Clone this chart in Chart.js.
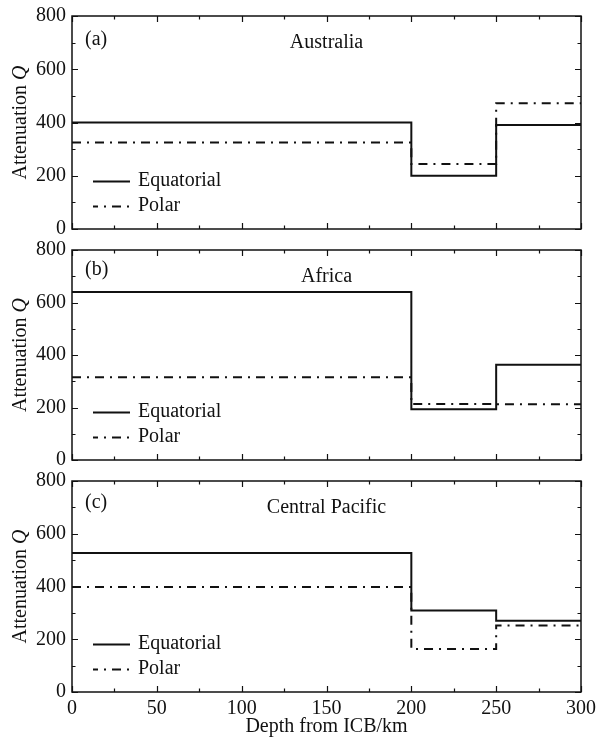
<!DOCTYPE html>
<html>
<head>
<meta charset="utf-8">
<script src="https://cdn.jsdelivr.net/npm/chart.js@4.4.1/dist/chart.umd.min.js"></script>
<style>
  html, body { margin: 0; padding: 0; background: #ffffff; }
  #wrap { position: relative; width: 597px; height: 739px; overflow: hidden; background: #ffffff; }
  canvas { position: absolute; left: 0; }
</style>
</head>
<body>
<div id="wrap">
  <canvas id="panelA" width="597" height="240" style="top:0px"></canvas>
  <canvas id="panelB" width="597" height="230" style="top:240px"></canvas>
  <canvas id="panelC" width="597" height="269" style="top:470px"></canvas>
</div>
<script>
// Layer boundaries (depth below the inner-core boundary, km)
const depthBounds = [0, 200, 250, 300];

// Attenuation Q in each depth layer: 0-200, 200-250, 250-300 km
const australiaEquatorial = [400, 200, 391];
const australiaPolar      = [325, 244, 472];
const africaEquatorial    = [640, 193, 363];
const africaPolar         = [315, 213, 212];
const pacificEquatorial   = [527, 309, 270];
const pacificPolar        = [398, 163, 252];

const regionNames = ['Australia', 'Africa', 'Central Pacific'];
const panelTags   = ['(a)', '(b)', '(c)'];
const seriesNames = ['Equatorial', 'Polar'];

// Axis ticks
const xTickValues  = [0, 50, 100, 150, 200, 250, 300];
const xMinorValues = [25, 75, 125, 175, 225, 275];
const yTickValues  = [0, 200, 400, 600, 800];
const yMinorValues = [100, 300, 500, 700];

const INK = '#111111';
const SERIF = '"Liberation Serif", "Times New Roman", serif';
const POLAR_DASH = [9, 6, 2, 6];

// Turn per-layer values into step-line points (value holds until the next boundary)
function layerPoints(values) {
  return depthBounds.map((d, i) => ({ x: d, y: values[Math.min(i, values.length - 1)] }));
}

// Frame, inward ticks, axis title, panel tag, region name and legend
const panelDecor = {
  id: 'panelDecor',
  afterDatasetsDraw(chart, args, opts) {
    const { ctx, chartArea } = chart;
    const { left, right, top, bottom } = chartArea;
    const xs = chart.scales.x, ys = chart.scales.y;
    ctx.save();

    // frame
    ctx.strokeStyle = INK;
    ctx.lineWidth = 1.5;
    ctx.setLineDash([]);
    ctx.strokeRect(left, top, right - left, bottom - top);

    // inward ticks on all four sides
    ctx.lineWidth = 1.2;
    ctx.beginPath();
    const xTick = (v, len) => {
      const p = Math.round(xs.getPixelForValue(v)) + 0.5;
      ctx.moveTo(p, bottom); ctx.lineTo(p, bottom - len);
      ctx.moveTo(p, top);    ctx.lineTo(p, top + len);
    };
    const yTick = (v, len) => {
      const p = Math.round(ys.getPixelForValue(v)) + 0.5;
      ctx.moveTo(left, p);  ctx.lineTo(left + len, p);
      ctx.moveTo(right, p); ctx.lineTo(right - len, p);
    };
    xTickValues.forEach(v => xTick(v, 6));
    xMinorValues.forEach(v => xTick(v, 3.5));
    yTickValues.forEach(v => yTick(v, 6));
    yMinorValues.forEach(v => yTick(v, 3.5));
    ctx.stroke();

    ctx.fillStyle = INK;

    // y axis title: "Attenuation Q" with italic Q
    ctx.save();
    ctx.translate(21, (top + bottom) / 2);
    ctx.rotate(-Math.PI / 2);
    const normalFont = '20px ' + SERIF;
    const italicFont = 'italic 20px ' + SERIF;
    ctx.font = normalFont;
    const w1 = ctx.measureText('Attenuation ').width;
    ctx.font = italicFont;
    const w2 = ctx.measureText('Q').width;
    const start = -(w1 + w2) / 2;
    ctx.textBaseline = 'middle';
    ctx.textAlign = 'left';
    ctx.font = normalFont;
    ctx.fillText('Attenuation ', start, 0);
    ctx.font = italicFont;
    ctx.fillText('Q', start + w1, 0);
    ctx.restore();

    // panel tag and region name
    ctx.font = '20px ' + SERIF;
    ctx.textBaseline = 'middle';
    ctx.textAlign = 'left';
    ctx.fillText(opts.tag, left + 13, top + opts.tagDy);
    ctx.textAlign = 'center';
    ctx.fillText(opts.region, (left + right) / 2, top + 27);

    // legend
    chart.data.datasets.forEach((ds, i) => {
      const ly = Math.round(bottom - 48 + i * 25) + 0.5;
      ctx.strokeStyle = ds.borderColor;
      ctx.lineWidth = ds.borderWidth;
      ctx.setLineDash(ds.borderDash || []);
      ctx.lineDashOffset = ds.borderDash ? 4 : 0;
      ctx.beginPath();
      ctx.moveTo(left + 21, ly);
      ctx.lineTo(left + 58, ly);
      ctx.stroke();
      ctx.setLineDash([]);
      ctx.lineDashOffset = 0;
      ctx.textAlign = 'left';
      ctx.fillText(ds.label, left + 66, ly - 1);
    });

    ctx.restore();
  }
};

function buildPanel(canvasId, equatorial, polar, idx, layout) {
  const showX = layout.showX;
  return new Chart(document.getElementById(canvasId), {
    type: 'line',
    data: {
      datasets: [
        {
          label: seriesNames[0],
          data: layerPoints(equatorial),
          borderColor: INK,
          borderWidth: 2,
          pointRadius: 0,
          stepped: true,
          fill: false
        },
        {
          label: seriesNames[1],
          data: layerPoints(polar),
          borderColor: INK,
          borderWidth: 2,
          borderDash: POLAR_DASH,
          pointRadius: 0,
          stepped: true,
          fill: false
        }
      ]
    },
    options: {
      responsive: false,
      animation: false,
      events: [],
      devicePixelRatio: 1,
      layout: { padding: { left: 0, right: 16, top: layout.padTop, bottom: layout.padBottom } },
      plugins: {
        legend: { display: false },
        tooltip: { enabled: false },
        panelDecor: { tag: panelTags[idx], region: regionNames[idx], tagDy: layout.tagDy }
      },
      scales: {
        x: {
          type: 'linear',
          min: 0, max: 300,
          display: showX,
          grid: { display: false, drawTicks: false },
          border: { display: false },
          afterBuildTicks: s => { s.ticks = xTickValues.map(v => ({ value: v })); },
          afterFit: s => {
            if (showX) s.height = 47;
            s.paddingLeft = 0; s.paddingRight = 0;
          },
          ticks: {
            padding: 5,
            color: INK,
            font: { family: SERIF, size: 20 },
            maxRotation: 0
          },
          title: {
            display: showX,
            text: 'Depth from ICB/km',
            color: INK,
            font: { family: SERIF, size: 20 },
            padding: { top: 0, bottom: 0 }
          }
        },
        y: {
          type: 'linear',
          min: 0, max: 800,
          grid: { display: false, drawTicks: false },
          border: { display: false },
          afterBuildTicks: s => { s.ticks = yTickValues.map(v => ({ value: v })); },
          afterFit: s => {
            s.width = 72;
            s.paddingTop = 0; s.paddingBottom = 0;
          },
          ticks: {
            padding: 6,
            color: INK,
            font: { family: SERIF, size: 20 }
          }
        }
      }
    },
    plugins: [panelDecor]
  });
}

buildPanel('panelA', australiaEquatorial, australiaPolar, 0, { padTop: 16, padBottom: 11, showX: false, tagDy: 24 });
buildPanel('panelB', africaEquatorial, africaPolar, 1, { padTop: 10, padBottom: 10, showX: false, tagDy: 20 });
buildPanel('panelC', pacificEquatorial, pacificPolar, 2, { padTop: 11, padBottom: 0, showX: true, tagDy: 22 });
</script>
</body>
</html>
